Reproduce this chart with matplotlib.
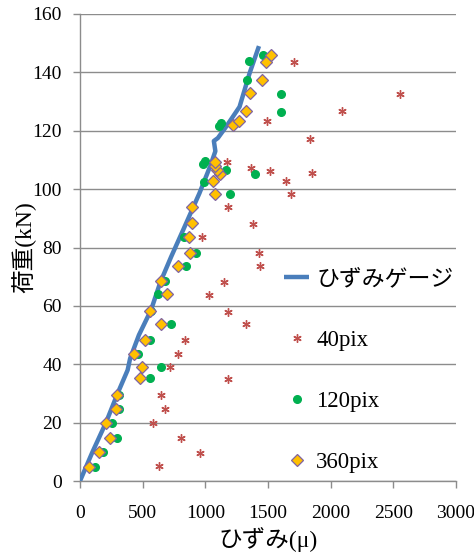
import matplotlib
matplotlib.use("Agg")
import matplotlib.pyplot as plt

plt.rcParams['font.family'] = ['Liberation Serif', 'Noto Sans CJK JP']

# strain gauge curve (strain µ, load kN)
gauge_x = [0, 100, 207, 300, 380, 400, 470, 567, 640, 727, 823, 953, 1040, 1080, 1068, 1100, 1166, 1273, 1353, 1428]
gauge_y = [0, 10, 20, 30, 38, 42, 50, 58.6, 68, 76.8, 86, 98.6, 108, 113, 116.5, 117.5, 121.4, 128.2, 139.7, 149]

# 40pix
p40_x = [628, 958, 804, 585, 680, 645, 1179, 718, 781, 841, 1327, 1179, 1026, 1152, 1438, 1425, 975, 1377,
         1178, 1683, 1640, 1852, 1514, 1368, 1176, 1834, 1492, 2090, 2553, 1710]
p40_y = [5, 9.7, 14.7, 19.8, 24.6, 29.4, 35.1, 39, 43.4, 48.2, 53.9, 58, 63.8, 68.2, 73.7, 78, 83.5, 88.2,
         93.8, 98.2, 102.8, 105.6, 106.3, 107.4, 109.2, 117.1, 123.2, 126.8, 132.7, 143.6]

# 120pix
p120_x = [120, 185, 293, 256, 309, 314, 562, 647, 466, 559, 727, 565, 625, 676, 844, 925, 830, 890, 895,
          1195, 990, 1164, 984, 996, 1111, 1122, 1330, 1351, 1457, 1604, 1604, 1399]
p120_y = [4.9, 9.8, 14.7, 19.9, 24.7, 29.4, 35.3, 39, 43.5, 48.2, 53.9, 58.1, 64, 68.4, 73.8, 78.2, 83.6, 88.5, 94,
          98.3, 102.6, 106.6, 108.6, 109.6, 121.6, 122.8, 137.3, 143.8, 145.8, 132.6, 126.5, 105.3]

# 360pix
p360_x = [69, 152, 237, 205, 288, 293, 482, 496, 434, 522, 647, 559, 692, 647, 778, 879, 866, 892, 892,
          1081, 1060, 1116, 1095, 1081, 1081, 1218, 1265, 1324, 1356, 1453, 1487, 1527]
p360_y = [4.9, 9.8, 14.6, 19.8, 24.7, 29.4, 35.2, 39, 43.5, 48.2, 53.9, 58.1, 64, 68.4, 73.8, 78.2, 83.6, 88.5, 93.9,
          98.4, 102.9, 105.2, 106.5, 108, 109.4, 121.8, 123.3, 126.8, 132.9, 137.5, 143.6, 145.9]

series_labels = ['ひずみゲージ', '40pix', '120pix', '360pix']
x_ticks = [0, 500, 1000, 1500, 2000, 2500, 3000]
y_ticks = [0, 20, 40, 60, 80, 100, 120, 140, 160]

fig = plt.figure(figsize=(4.74, 5.56), dpi=100)
ax = fig.add_axes([80/474, 75/556, 376/474, 467/556])

grid_c = '#8c8c8c'
ax.set_xlim(0, 3000)
ax.set_ylim(0, 160)
ax.set_xticks(x_ticks)
ax.set_yticks(y_ticks)
ax.yaxis.grid(True, color=grid_c, lw=1.0)
ax.set_axisbelow(True)
for s in ['top', 'right']:
    ax.spines[s].set_visible(False)
for s in ['left', 'bottom']:
    ax.spines[s].set_color(grid_c)
    ax.spines[s].set_linewidth(1.0)
ax.tick_params(axis='both', direction='out', length=5, color=grid_c, labelsize=14, width=1.0)
ax.tick_params(axis='y', pad=8)
ax.tick_params(axis='x', pad=12)

ln, = ax.plot(gauge_x, gauge_y, color='#4a7ebb', lw=3.2, solid_capstyle='butt', solid_joinstyle='round',
              zorder=3, label=series_labels[0])
s40, = ax.plot(p40_x, p40_y, ls='none', marker=(6, 2, 0), ms=6, mec='#c0504d', mew=1.0,
               color='#c0504d', zorder=4, label=series_labels[1])
s120, = ax.plot(p120_x, p120_y, ls='none', marker='o', ms=5.5, mfc='#00b050', mec='#00b050',
                zorder=5, label=series_labels[2])
s360, = ax.plot(p360_x, p360_y, ls='none', marker='D', ms=6.5, mfc='#ffc000', mec='#8064a2', mew=0.9,
                zorder=6, label=series_labels[3])

leg = ax.legend(handles=[ln, s40, s120, s360], loc='upper left',
                bbox_to_anchor=(284/474, 1 - 269/556), bbox_transform=fig.transFigure,
                frameon=False, fontsize=16.5, labelspacing=1.75, handlelength=1.1,
                handletextpad=0.3, borderpad=0, borderaxespad=0, markerscale=1.0)

ax.set_xlabel('ひずみ(μ)', fontsize=17, labelpad=4)
ax.set_ylabel('荷重(kN)', fontsize=17)
ax.yaxis.set_label_coords(-0.117, 0.5)

fig.savefig('out.png', dpi=100)
